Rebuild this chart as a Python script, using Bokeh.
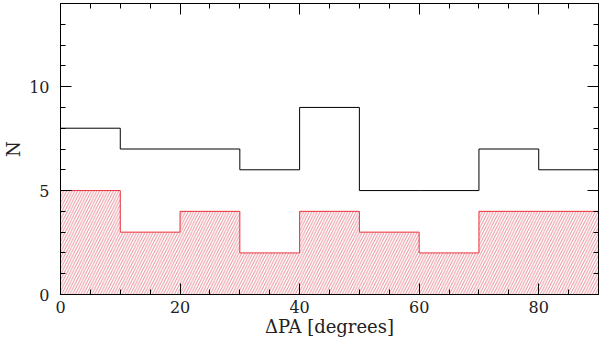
from bokeh.plotting import figure
from bokeh.models import LinearAxis, Range1d, FixedTicker
from bokeh.embed import file_html
from bokeh.resources import INLINE

# Data
bin_edges = [0, 10, 20, 30, 40, 50, 60, 70, 80, 90]
all_counts = [8, 7, 7, 6, 9, 5, 5, 7, 6]
sub_counts = [5, 3, 4, 2, 4, 3, 2, 4, 4]

x_label = "ΔPA [degrees]"
y_label = "N"

FONT = "DejaVu Serif"

p = figure(width=600, height=343, output_backend="svg", toolbar_location=None,
           x_range=Range1d(0, 90), y_range=Range1d(0, 14),
           x_axis_location=None, y_axis_location=None,
           min_border_left=55, min_border_right=2, min_border_top=3, min_border_bottom=49)
p.outline_line_color = None
p.grid.visible = False
p.background_fill_color = "white"
p.border_fill_color = "white"


def step_coords(edges, counts):
    xs, ys = [], []
    for i, c in enumerate(counts):
        xs += [edges[i], edges[i + 1]]
        ys += [c, c]
    return xs, ys

# hatched red histogram
p.quad(left=bin_edges[:-1], right=bin_edges[1:], bottom=0, top=sub_counts,
       fill_color=None, line_color=None,
       hatch_pattern="/", hatch_color="#e05868", hatch_scale=5.5, hatch_weight=0.7)
rx, ry = step_coords(bin_edges, sub_counts)
p.line(rx, ry, line_color="#e8303a", line_width=1)

bx, by = step_coords(bin_edges, all_counts)
p.line(bx, by, line_color="black", line_width=1)


def style(ax, labels=True):
    ax.axis_line_color = "black"
    ax.axis_line_width = 1
    ax.major_tick_in = 11
    ax.major_tick_out = 0
    ax.minor_tick_in = 5
    ax.minor_tick_out = 0
    ax.major_tick_line_color = "black"
    ax.minor_tick_line_color = "black"
    ax.major_label_text_font = FONT
    ax.major_label_text_font_size = "16px"
    ax.major_label_text_color = "#222222"
    ax.axis_label_text_font = FONT
    ax.axis_label_text_font_size = "18px"
    ax.axis_label_text_font_style = "normal"
    ax.axis_label_text_color = "#222222"
    if not labels:
        ax.major_label_text_font_size = "0px"
        ax.major_label_text_alpha = 0


xt = FixedTicker(ticks=[0, 20, 40, 60, 80], minor_ticks=list(range(0, 91, 5)))
yt = FixedTicker(ticks=[0, 5, 10], minor_ticks=list(range(0, 15)))

bottom = LinearAxis(ticker=xt, axis_label=x_label)
style(bottom)
bottom.major_label_standoff = 6
bottom.axis_label_standoff = 0
left = LinearAxis(ticker=yt, axis_label=y_label)
style(left)
left.major_label_standoff = 11
left.axis_label_standoff = 2
top = LinearAxis(ticker=xt)
style(top, labels=False)
right = LinearAxis(ticker=yt)
style(right, labels=False)

p.add_layout(bottom, "below")
p.add_layout(left, "left")
p.add_layout(top, "above")
p.add_layout(right, "right")

open("out.html", "w").write(file_html(p, INLINE))
